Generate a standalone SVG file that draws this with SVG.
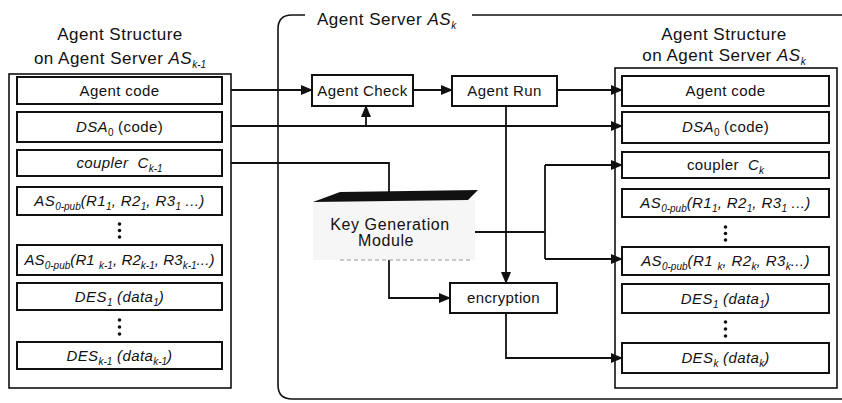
<svg xmlns="http://www.w3.org/2000/svg" width="842" height="403" viewBox="0 0 842 403">
<style>
.box{fill:#fff;stroke:#111;stroke-width:2}
.outer{fill:none;stroke:#111;stroke-width:1.6}
.ln{fill:none;stroke:#111;stroke-width:1.8}
.t{font-family:"Liberation Sans",Arial,sans-serif;font-size:15px;fill:#111;letter-spacing:0.4px}
.ttl{font-size:17px;letter-spacing:0.5px}
.i{font-style:italic}
.s{font-size:10px;letter-spacing:0}
.dot{fill:#111}
</style>
<defs>
<marker id="ah" markerWidth="12" markerHeight="10" refX="11" refY="5" orient="auto" markerUnits="userSpaceOnUse"><path d="M0,0 L12,5 L0,10 z" fill="#111"/></marker>
</defs>

<g id="server">
<path class="outer" d="M305,15 L292,15 Q278,15 278,29 L278,385 Q278,399 292,399 L850,399 M472,15 L850,15"/>
<text class="t ttl" x="317" y="25">Agent Server <tspan class="i">AS</tspan><tspan class="s i" dy="4">k</tspan></text>
</g>

<g id="left-structure">
<text class="t ttl" x="120" y="40" text-anchor="middle">Agent Structure</text>
<text class="t ttl" x="120" y="64" text-anchor="middle">on Agent Server <tspan class="i">AS</tspan><tspan class="s i" dy="4">k-1</tspan></text>
<rect class="outer" x="9" y="74" width="222" height="314"/>
<g id="l-agentcode"><rect class="box" x="17" y="77" width="205" height="27"/><text class="t" x="119.5" y="96" text-anchor="middle">Agent code</text></g>
<g id="l-dsa"><rect class="box" x="17" y="112" width="205" height="30"/><text class="t" x="119.5" y="132" text-anchor="middle"><tspan class="i">DSA</tspan><tspan class="s" dy="4">0</tspan><tspan dy="-4"> (code)</tspan></text></g>
<g id="l-coupler"><rect class="box" x="17" y="150" width="205" height="26"/><text class="t i" x="119.5" y="168" text-anchor="middle">coupler<tspan dx="9">C</tspan><tspan class="s" dy="4">k-1</tspan></text></g>
<g id="l-as1"><rect class="box" x="17" y="187" width="205" height="28"/><text class="t i" x="119.5" y="206" text-anchor="middle">AS<tspan class="s" dy="4">0-pub</tspan><tspan dy="-4">(R1</tspan><tspan class="s" dy="4">1</tspan><tspan dy="-4">, R2</tspan><tspan class="s" dy="4">1</tspan><tspan dy="-4">, R3</tspan><tspan class="s" dy="4">1</tspan><tspan dy="-4"> ...)</tspan></text></g>
<circle class="dot" cx="119.5" cy="224" r="1.8"/><circle class="dot" cx="119.5" cy="230.5" r="1.8"/><circle class="dot" cx="119.5" cy="237" r="1.8"/>
<g id="l-ask"><rect class="box" x="17" y="245" width="205" height="30"/><text class="t i" x="119.5" y="265" text-anchor="middle" style="letter-spacing:0.1px">AS<tspan class="s" dy="4">0-pub</tspan><tspan dy="-4">(R1 </tspan><tspan class="s" dy="4">k-1</tspan><tspan dy="-4">, R2</tspan><tspan class="s" dy="4">k-1</tspan><tspan dy="-4">, R3</tspan><tspan class="s" dy="4">k-1</tspan><tspan dy="-4">...)</tspan></text></g>
<g id="l-des1"><rect class="box" x="17" y="283" width="205" height="27"/><text class="t i" x="119.5" y="302" text-anchor="middle">DES<tspan class="s" dy="4">1</tspan><tspan dy="-4"> (data</tspan><tspan class="s" dy="4">1</tspan><tspan dy="-4">)</tspan></text></g>
<circle class="dot" cx="119.5" cy="320" r="1.8"/><circle class="dot" cx="119.5" cy="327" r="1.8"/><circle class="dot" cx="119.5" cy="334" r="1.8"/>
<g id="l-desk"><rect class="box" x="17" y="342" width="205" height="27"/><text class="t i" x="119.5" y="361" text-anchor="middle">DES<tspan class="s" dy="4">k-1</tspan><tspan dy="-4"> (data</tspan><tspan class="s" dy="4">k-1</tspan><tspan dy="-4">)</tspan></text></g>
</g>

<g id="right-structure">
<text class="t ttl" x="724" y="40" text-anchor="middle">Agent Structure</text>
<text class="t ttl" x="724" y="61" text-anchor="middle">on Agent Server <tspan class="i">AS</tspan><tspan class="s i" dy="4">k</tspan></text>
<rect class="outer" x="615" y="68" width="222" height="320"/>
<g id="r-agentcode"><rect class="box" x="622" y="76" width="207" height="30"/><text class="t" x="725.5" y="96" text-anchor="middle">Agent code</text></g>
<g id="r-dsa"><rect class="box" x="622" y="112" width="207" height="31"/><text class="t" x="725.5" y="132" text-anchor="middle"><tspan class="i">DSA</tspan><tspan class="s" dy="4">0</tspan><tspan dy="-4"> (code)</tspan></text></g>
<g id="r-coupler"><rect class="box" x="622" y="152" width="207" height="26"/><text class="t" x="725.5" y="170" text-anchor="middle">coupler<tspan class="i" dx="9">C</tspan><tspan class="s i" dy="4">k</tspan></text></g>
<g id="r-as1"><rect class="box" x="622" y="189" width="207" height="28"/><text class="t i" x="725.5" y="208" text-anchor="middle">AS<tspan class="s" dy="4">0-pub</tspan><tspan dy="-4">(R1</tspan><tspan class="s" dy="4">1</tspan><tspan dy="-4">, R2</tspan><tspan class="s" dy="4">1</tspan><tspan dy="-4">, R3</tspan><tspan class="s" dy="4">1</tspan><tspan dy="-4"> ...)</tspan></text></g>
<circle class="dot" cx="725.5" cy="227" r="1.8"/><circle class="dot" cx="725.5" cy="233.5" r="1.8"/><circle class="dot" cx="725.5" cy="240" r="1.8"/>
<g id="r-ask"><rect class="box" x="622" y="247" width="207" height="28"/><text class="t i" x="725.5" y="266" text-anchor="middle">AS<tspan class="s" dy="4">0-pub</tspan><tspan dy="-4">(R1 </tspan><tspan class="s" dy="4">k</tspan><tspan dy="-4">, R2</tspan><tspan class="s" dy="4">k</tspan><tspan dy="-4">, R3</tspan><tspan class="s" dy="4">k</tspan><tspan dy="-4">...)</tspan></text></g>
<g id="r-des1"><rect class="box" x="622" y="284" width="207" height="29"/><text class="t i" x="725.5" y="304" text-anchor="middle">DES<tspan class="s" dy="4">1</tspan><tspan dy="-4"> (data</tspan><tspan class="s" dy="4">1</tspan><tspan dy="-4">)</tspan></text></g>
<circle class="dot" cx="725.5" cy="322" r="1.8"/><circle class="dot" cx="725.5" cy="329" r="1.8"/><circle class="dot" cx="725.5" cy="336" r="1.8"/>
<g id="r-desk"><rect class="box" x="622" y="343" width="207" height="30"/><text class="t i" x="725.5" y="363" text-anchor="middle">DES<tspan class="s" dy="4">k</tspan><tspan dy="-4"> (data</tspan><tspan class="s" dy="4">k</tspan><tspan dy="-4">)</tspan></text></g>
</g>

<g id="connectors">
<path class="ln" d="M231,90 L312,90" marker-end="url(#ah)"/>
<path class="ln" d="M413,90 L452,90" marker-end="url(#ah)"/>
<path class="ln" d="M557,90 L622,90" marker-end="url(#ah)"/>
<path class="ln" d="M231,126 L622,126" marker-end="url(#ah)"/>
<path class="ln" d="M366,126 L366,106" marker-end="url(#ah)"/>
<path class="ln" d="M231,163 L389,163 L389,193"/>
<path class="ln" d="M506,106 L506,283" marker-end="url(#ah)"/>
<path class="ln" d="M468,232 L545,232"/>
<path class="ln" d="M545,165 L545,259"/>
<path class="ln" d="M545,165 L622,165" marker-end="url(#ah)"/>
<path class="ln" d="M545,259 L622,259" marker-end="url(#ah)"/>
<path class="ln" d="M389,259 L389,298 L450,298" marker-end="url(#ah)"/>
<path class="ln" d="M506,313 L506,358 L622,358" marker-end="url(#ah)"/>
</g>

<g id="agent-check"><rect class="box" x="312" y="75" width="101" height="31"/><text class="t" x="362.5" y="96" text-anchor="middle">Agent Check</text></g>
<g id="agent-run"><rect class="box" x="452" y="76" width="105" height="30"/><text class="t" x="504.5" y="96" text-anchor="middle">Agent Run</text></g>
<g id="encryption"><rect class="box" x="450" y="283" width="107" height="30"/><text class="t" x="503.5" y="303" text-anchor="middle">encryption</text></g>
<g id="key-generation">
<rect x="313" y="200" width="162" height="60" fill="#f6f6f6"/>
<polygon points="313,202 340,192 478,190 468,200" fill="#111"/>
<path d="M340,260 L470,260" stroke="#999" stroke-width="1" stroke-dasharray="4,3"/>
<text class="t" x="390" y="230" text-anchor="middle" style="letter-spacing:0.6px;font-size:16px">Key Generation</text>
<text class="t" x="386" y="246" text-anchor="middle" style="letter-spacing:0.6px;font-size:16px">Module</text>
</g>
</svg>
